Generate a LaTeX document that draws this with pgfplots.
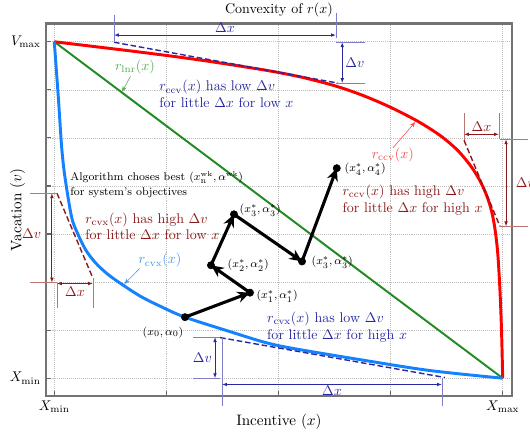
\documentclass[border=0pt]{standalone}
\usepackage{pgfplots}
\pgfplotsset{compat=1.18}
\usetikzlibrary{arrows.meta}
\definecolor{ccvred}{RGB}{255,0,0}
\definecolor{cvxblue}{RGB}{20,130,255}
\definecolor{lnrgreen}{RGB}{34,139,34}
\definecolor{navyann}{RGB}{40,40,160}
\definecolor{dredann}{RGB}{140,25,25}
\definecolor{lnrlabel}{RGB}{80,170,80}
\definecolor{ccvlabel}{RGB}{255,70,70}
\definecolor{cvxlabel}{RGB}{60,150,255}
\tikzset{dimarr/.style={line width=0.6pt, {Latex[length=3.5pt]}-{Latex[length=3.5pt]}},
  extl/.style={line width=0.5pt},
  dsh/.style={line width=1pt, dash pattern=on 4pt off 2pt}}
\begin{document}
\begin{tikzpicture}
\begin{axis}[
  x=80pt, y=34.3pt,
  xmin=-0.077, xmax=4.086, ymin=-0.375, ymax=7.38,
  axis line style={black!55, line width=1.5pt},
  xtick={0,1,2,3,4}, ytick={0,1,2,3,4,5,6,7},
  xticklabels={$X_{\min}$,,,,$X_{\max}$},
  yticklabels={$X_{\min}$,,,,,,,$V_{\max}$},
  tick align=inside, xtick pos=bottom, ytick pos=left,
  major tick length=4pt,
  tick style={black!60, line width=0.8pt},
  grid=major, grid style={densely dotted, black!25},
  xlabel={Incentive ($x$)}, ylabel={Vacation ($v$)},
  xlabel style={at={(axis description cs:0.5,-0.068)}, anchor=center, font=\fontsize{10.8}{13}\selectfont},
  ylabel style={at={(axis description cs:-0.060,0.5)}, anchor=center, font=\fontsize{10.8}{13}\selectfont},
  clip=false,
]
\node[anchor=center] at (rel axis cs:0.5,1.036) {Convexity of $r(x)$};
% curves
\addplot[lnrgreen, line width=1.4pt] coordinates {(0,7)(4,0)};
\addplot[ccvred, line width=2.1pt, smooth] coordinates {
(0,7)(0.765,6.785)(1.30,6.62)(1.88,6.41)(2.2,6.266)(2.5,6.086)(2.75,5.886)(3.0,5.636)
(3.25,5.336)(3.45,5.036)(3.6,4.736)(3.72,4.40)(3.8,4.096)(3.86,3.784)(3.9,3.484)
(3.93,3.124)(3.955,2.624)(3.975,1.864)(3.99,0.964)(4,0)};
\addplot[cvxblue, line width=2.1pt, smooth] coordinates {
(0,7)(0.036,5.854)(0.066,4.81)(0.095,4.19)(0.155,3.35)(0.2115,2.994)(0.283,2.66)
(0.372,2.39)(0.479,2.16)(0.604,1.952)(0.765,1.71)(0.943,1.50)(1.166,1.27)
(1.567,0.97)(1.88,0.745)(2.13,0.62)(2.77,0.37)(3.35,0.16)(4,0)};

% algorithm path
\addplot[black, line width=2.2pt, -{Stealth[length=9pt,width=8pt]}] coordinates {(1.166,1.27)(1.746,1.78)};
\addplot[black, line width=2.2pt, -{Stealth[length=9pt,width=8pt]}] coordinates {(1.746,1.78)(1.398,2.35)};
\addplot[black, line width=2.2pt, -{Stealth[length=9pt,width=8pt]}] coordinates {(1.398,2.35)(1.603,3.41)};
\addplot[black, line width=2.2pt, -{Stealth[length=9pt,width=8pt]}] coordinates {(1.603,3.41)(2.21,2.43)};
\addplot[black, line width=2.2pt, -{Stealth[length=9pt,width=8pt]}] coordinates {(2.21,2.43)(2.52,4.37)};
\addplot[black, only marks, mark=*, mark size=2.6pt] coordinates {(1.166,1.27)(1.746,1.78)(1.398,2.35)(1.603,3.41)(2.21,2.43)(2.52,4.37)};

\node[font=\footnotesize] at (axis cs:0.97,0.95) {$(x_0,\alpha_0)$};
\node[font=\footnotesize, anchor=west, inner sep=1pt] at (axis cs:1.79,1.70) {$(x_1^{*},\alpha_1^{*})$};
\node[font=\footnotesize, anchor=west, inner sep=1pt] at (axis cs:1.532,2.35) {$(x_2^{*},\alpha_2^{*})$};
\node[font=\footnotesize, anchor=west, inner sep=1pt] at (axis cs:1.639,3.49) {$(x_3^{*},\alpha_3^{*})$};
\node[font=\footnotesize, anchor=west, inner sep=1pt] at (axis cs:2.281,2.41) {$(x_3^{*},\alpha_3^{*})$};
\node[font=\footnotesize, anchor=west, inner sep=1pt] at (axis cs:2.575,4.35) {$(x_4^{*},\alpha_4^{*})$};
\node[font=\footnotesize, anchor=west, align=left, inner sep=0pt] at (axis cs:0.141,4.02) {Algorithm choses best $(x_{\mathrm{n}}^{\scriptscriptstyle\mathrm{wk}},\alpha^{\scriptscriptstyle\mathrm{wk}})$\\[1pt]for system's objectives};

% curve labels
\node[lnrlabel] at (axis cs:0.72,6.48) {$r_{\mathrm{lnr}}(x)$};
\draw[lnrlabel, thin, -{Stealth[length=4pt]}] (axis cs:0.68,6.28) -- (axis cs:0.604,5.96);
\node[ccvlabel] at (axis cs:3.02,4.64) {$r_{\mathrm{ccv}}(x)$};
\draw[ccvlabel, thin, -{Stealth[length=4pt]}] (axis cs:3.02,4.79) -- (axis cs:3.22,5.33);
\node[cvxlabel] at (axis cs:0.943,2.45) {$r_{\mathrm{cvx}}(x)$};
\draw[cvxlabel, thin, -{Stealth[length=4pt]}] (axis cs:0.76,2.28) -- (axis cs:0.625,1.96);

% annotation texts
\node[navyann, anchor=west, align=left, inner sep=0pt] at (axis cs:0.935,5.91) {$r_{\mathrm{ccv}}(x)$ has low $\Delta v$\\for little $\Delta x$ for low $x$};
\node[dredann, anchor=west, align=left, inner sep=0pt] at (axis cs:2.57,3.70) {$r_{\mathrm{ccv}}(x)$ has high $\Delta v$\\for little $\Delta x$ for high $x$};
\node[dredann, anchor=west, align=left, inner sep=0pt] at (axis cs:0.274,3.16) {$r_{\mathrm{cvx}}(x)$ has high $\Delta v$\\for little $\Delta x$ for low $x$};
\node[navyann, anchor=west, align=left, inner sep=0pt] at (axis cs:1.897,1.07) {$r_{\mathrm{cvx}}(x)$ has low $\Delta v$\\for little $\Delta x$ for high $x$};

% top navy annotation
\draw[navyann, dsh] (axis cs:0.533,6.99) -- (axis cs:2.53,6.14);
\draw[navyann!60, extl] (axis cs:0.533,7.56) -- (axis cs:0.533,6.99);
\draw[navyann!60, extl] (axis cs:2.513,7.6) -- (axis cs:2.513,7.08);
\draw[navyann, dimarr] (axis cs:0.533,7.14) -- (axis cs:2.513,7.14);
\node[navyann, anchor=south, inner sep=1.5pt] at (axis cs:1.523,7.14) {$\Delta x$};
\draw[navyann!60, extl] (axis cs:2.513,6.99) -- (axis cs:2.77,6.99);
\draw[navyann!60, extl] (axis cs:2.513,6.14) -- (axis cs:2.77,6.14);
\draw[navyann, dimarr] (axis cs:2.569,6.99) -- (axis cs:2.569,6.14);
\node[navyann, anchor=west, inner sep=2pt] at (axis cs:2.569,6.56) {$\Delta v$};

% right dark red annotation
\draw[dredann, dsh] (axis cs:3.655,4.95) -- (axis cs:3.976,3.16);
\draw[dredann!60, extl] (axis cs:3.655,5.51) -- (axis cs:3.655,4.95);
\draw[dredann!60, extl] (axis cs:3.967,5.51) -- (axis cs:3.967,4.97);
\draw[dredann, dimarr] (axis cs:3.655,5.075) -- (axis cs:3.967,5.075);
\node[dredann, anchor=south, inner sep=1.5pt] at (axis cs:3.811,5.075) {$\Delta x$};
\draw[dredann!60, extl] (axis cs:3.976,4.97) -- (axis cs:4.226,4.97);
\draw[dredann!60, extl] (axis cs:3.976,3.16) -- (axis cs:4.226,3.16);
\draw[dredann, dimarr] (axis cs:4.03,4.97) -- (axis cs:4.03,3.16);
\node[dredann, anchor=west, inner sep=2pt] at (axis cs:4.09,4.06) {$\Delta v$};

% left dark red annotation
\draw[dredann, dsh] (axis cs:0.024,3.85) -- (axis cs:0.345,2.08);
\draw[dredann!60, extl] (axis cs:-0.217,3.85) -- (axis cs:0.024,3.85);
\draw[dredann!60, extl] (axis cs:-0.217,1.99) -- (axis cs:0.024,1.99);
\draw[dredann, dimarr] (axis cs:-0.021,3.85) -- (axis cs:-0.021,1.99);
\node[dredann, anchor=east, inner sep=0pt] at (axis cs:-0.115,3.0) {$\Delta v$};
\draw[dredann!60, extl] (axis cs:0.024,1.99) -- (axis cs:0.024,1.47);
\draw[dredann!60, extl] (axis cs:0.345,2.08) -- (axis cs:0.345,1.47);
\draw[dredann, dimarr] (axis cs:0.024,1.97) -- (axis cs:0.345,1.97);
\node[dredann, anchor=north, inner sep=2pt] at (axis cs:0.185,1.97) {$\Delta x$};

% bottom navy annotation
\draw[navyann, dsh] (axis cs:1.48,0.845) -- (axis cs:3.485,0.015);
\draw[navyann!60, extl] (axis cs:1.24,0.855) -- (axis cs:1.48,0.855);
\draw[navyann!60, extl] (axis cs:1.24,0) -- (axis cs:1.48,0);
\draw[navyann, dimarr] (axis cs:1.434,0.855) -- (axis cs:1.434,0);
\node[navyann, anchor=east, inner sep=2pt] at (axis cs:1.434,0.43) {$\Delta v$};
\draw[navyann!60, extl] (axis cs:1.497,0.855) -- (axis cs:1.497,-0.57);
\draw[navyann!60, extl] (axis cs:3.458,0.0) -- (axis cs:3.458,-0.57);
\draw[navyann, dimarr] (axis cs:1.497,-0.13) -- (axis cs:3.458,-0.13);
\node[navyann, anchor=north, inner sep=1pt] at (axis cs:2.478,-0.13) {$\Delta x$};

\coordinate (bbll) at (axis cs:-0.484,-1.36);
\coordinate (bbur) at (axis cs:4.2436,7.869);
\end{axis}
\pgfresetboundingbox
\useasboundingbox (bbll) rectangle (bbur);
\end{tikzpicture}
\end{document}
